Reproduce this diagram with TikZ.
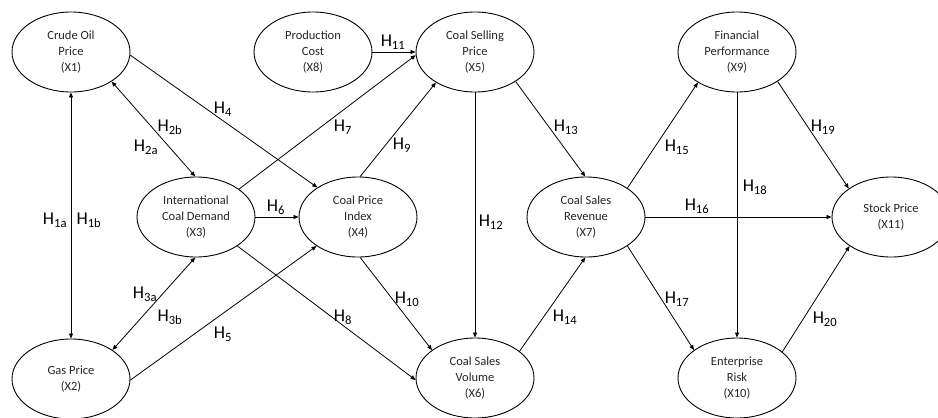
\documentclass[tikz,border=0pt]{standalone}
\usepackage{fontspec}
\setmainfont{Carlito}
\usetikzlibrary{arrows.meta,shapes.geometric}
\tikzset{
  var/.style={ellipse, draw, line width=0.9pt, minimum width=118pt, minimum height=80pt, inner sep=0pt, align=center, font=\fontsize{12.5}{16}\selectfont, text=black!85},
  link/.style={line width=0.8pt, -{Triangle[length=5pt,width=4pt]}},
  blink/.style={line width=0.8pt, {Triangle[length=5pt,width=4pt]}-{Triangle[length=5pt,width=4pt]}},
  hyp/.style={inner sep=0pt, font=\fontsize{18}{20}\selectfont}
}
\begin{document}
\begin{tikzpicture}[x=1pt,y=-1pt]
\useasboundingbox (0,0) rectangle (938,418);
\clip (0,0) rectangle (938,418);
\node[var] (x1) at (71,52) {Crude Oil\\Price\\(X1)};
\node[var] (x2) at (71,379) {Gas Price\\(X2)};
\node[var] (x3) at (196,217) {International\\Coal Demand\\(X3)};
\node[var] (x4) at (358,217) {Coal Price\\Index\\(X4)};
\node[var] (x8) at (313,52) {Production\\Cost\\(X8)};
\node[var] (x5) at (475,52) {Coal Selling\\Price\\(X5)};
\node[var] (x6) at (475,378) {Coal Sales\\Volume\\(X6)};
\node[var] (x7) at (586,217) {Coal Sales\\Revenue\\(X7)};
\node[var] (x9) at (737,52) {Financial\\Performance\\(X9)};
\node[var] (x10) at (737,378) {Enterprise\\Risk\\(X10)};
\node[var] (x11) at (891,217) {Stock Price\\(X11)};

\draw[blink] (x1.-90) -- (x2.90);
\draw[blink] (x1.-36) -- (x3.91);
\draw[blink] (x2.35) -- (x3.-91);
\draw[link] (x1.-3) -- (x4.144);
\draw[link] (x2.-1) -- (x4.-145);
\draw[link] (x3.0) -- (x4.180);
\draw[link] (x3.33) -- (x5.-177);
\draw[link] (x8.0) -- (x5.180);
\draw[link] (x3.-35) -- (x6.-178);
\draw[link] (x4.87) -- (x5.-142);
\draw[link] (x4.-87) -- (x6.147);
\draw[link] (x5.-90) -- (x6.90);
\draw[link] (x5.-36) -- (x7.91);
\draw[link] (x6.31) -- (x7.-91);
\draw[link] (x7.35) -- (x9.-142);
\draw[link] (x7.0) -- (x11.180);
\draw[link] (x7.-35) -- (x10.147);
\draw[link] (x9.-90) -- (x10.90);
\draw[link] (x9.-36) -- (x11.146);
\draw[link] (x10.30) -- (x11.-145);

\node[hyp] (h1a) at (55,220) {H\textsubscript{1a}};
\node[hyp] (h1b) at (89,220) {H\textsubscript{1b}};
\node[hyp] (h2b) at (170,127) {H\textsubscript{2b}};
\node[hyp] (h2a) at (146,147) {H\textsubscript{2a}};
\node[hyp] (h3a) at (145,294) {H\textsubscript{3a}};
\node[hyp] (h3b) at (170,317) {H\textsubscript{3b}};
\node[hyp] (h4) at (223,109) {H\textsubscript{4}};
\node[hyp] (h5) at (223,334) {H\textsubscript{5}};
\node[hyp] (h6) at (276,207) {H\textsubscript{6}};
\node[hyp] (h7) at (343,127) {H\textsubscript{7}};
\node[hyp] (h8) at (343,317) {H\textsubscript{8}};
\node[hyp] (h9) at (402,145) {H\textsubscript{9}};
\node[hyp] (h10) at (407,299) {H\textsubscript{10}};
\node[hyp] (h11) at (393,42) {H\textsubscript{11}};
\node[hyp] (h12) at (491,222) {H\textsubscript{12}};
\node[hyp] (h13) at (566,127) {H\textsubscript{13}};
\node[hyp] (h14) at (565,317) {H\textsubscript{14}};
\node[hyp] (h15) at (677,147) {H\textsubscript{15}};
\node[hyp] (h16) at (697,206) {H\textsubscript{16}};
\node[hyp] (h17) at (677,299) {H\textsubscript{17}};
\node[hyp] (h18) at (755,187) {H\textsubscript{18}};
\node[hyp] (h19) at (823,127) {H\textsubscript{19}};
\node[hyp] (h20) at (825,319) {H\textsubscript{20}};
\end{tikzpicture}
\end{document}
